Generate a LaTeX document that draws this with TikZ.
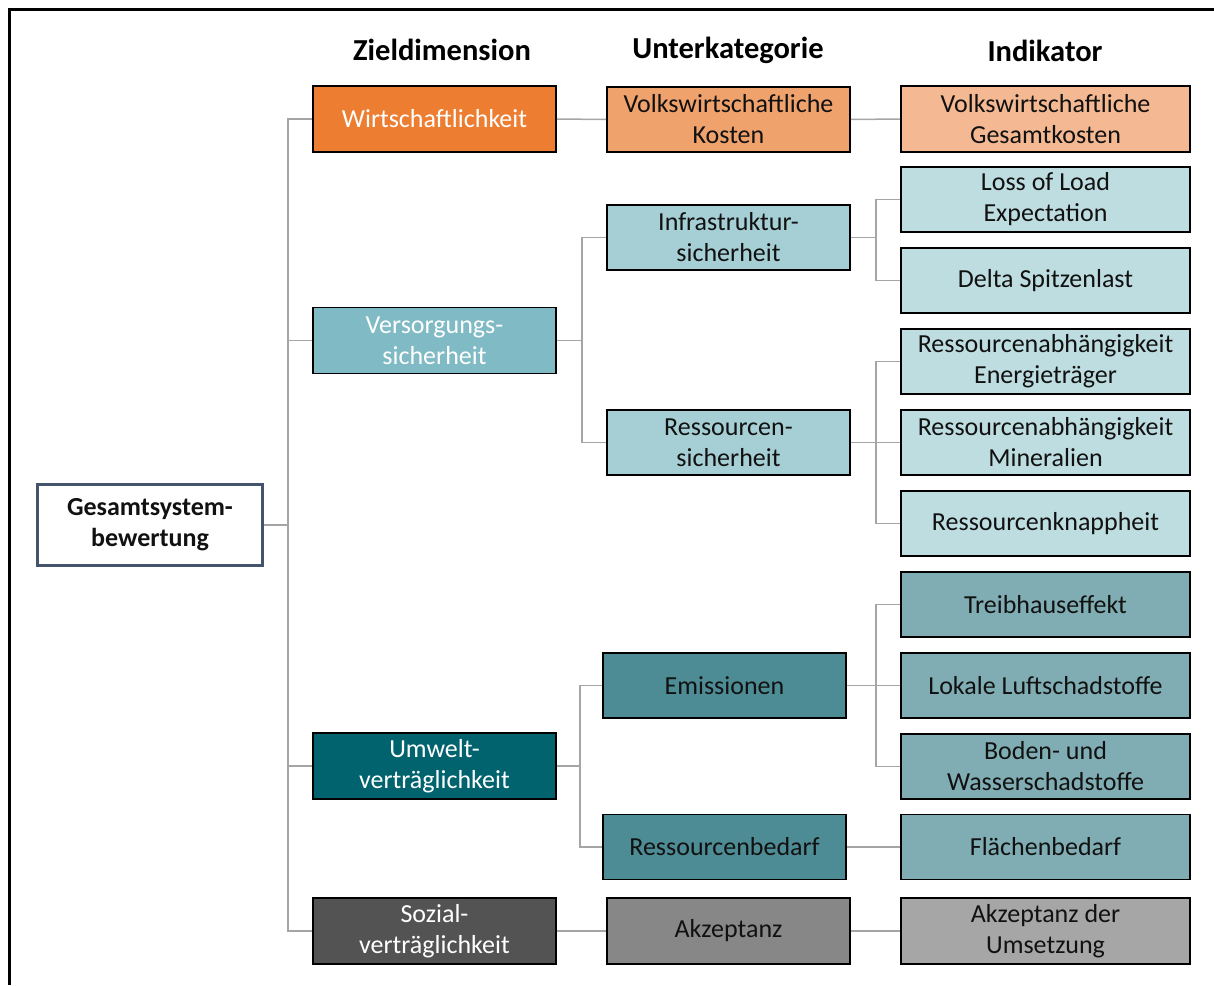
\documentclass[tikz,border=0pt]{standalone}
\usepackage{fontspec}
\setmainfont{Carlito}
\definecolor{cOrange}{HTML}{ED7D31}
\definecolor{cOrangeM}{HTML}{F0A26C}
\definecolor{cOrangeL}{HTML}{F4B992}
\definecolor{cTealA}{HTML}{80BAC4}
\definecolor{cTealB}{HTML}{A6CFD5}
\definecolor{cTealC}{HTML}{BEDDE1}
\definecolor{cDarkA}{HTML}{00636E}
\definecolor{cDarkB}{HTML}{4D8C95}
\definecolor{cDarkC}{HTML}{80ADB3}
\definecolor{cGrayA}{HTML}{535353}
\definecolor{cGrayB}{HTML}{878787}
\definecolor{cGrayC}{HTML}{A6A6A6}
\definecolor{cRoot}{HTML}{44546A}
\definecolor{cLine}{HTML}{A5A5A5}
\definecolor{cText}{HTML}{111111}
\tikzset{
  box/.style={rectangle, draw=black, line width=1.8pt, inner sep=0pt, align=center,
    font=\fontsize{26}{31}\selectfont, text=cText},
  colA/.style={box, minimum width=243pt, minimum height=66pt},
  colB/.style={box, minimum width=243pt, minimum height=65pt},
  colC/.style={box, minimum width=289pt, minimum height=65pt},
  wt/.style={text=white},
  head/.style={font=\fontsize{30.5}{34}\selectfont\bfseries, text=black},
  conn/.style={draw=cLine, line width=1.5pt},
}
\begin{document}
\begin{tikzpicture}[x=1pt,y=-1pt]
\useasboundingbox (0,0) rectangle (1214,985);
% frame
\draw[line width=3pt, black] (9.5,985) -- (9.5,9.5) -- (1214,9.5);
% headers
\node[head] (h1) at (442,50) {Zieldimension};
\node[head] (h2) at (728,50) {Unterkategorie};
\node[head] (h3) at (1045,51) {Indikator};
% root
\node[box, draw=cRoot, line width=3pt, minimum width=225pt, minimum height=81pt, fill=white,
  font=\fontsize{26}{31}\selectfont\bfseries] (root) at (150,525) {Gesamtsystem-\\bewertung};
% column 1
\node[colA, fill=cOrange, wt] (w) at (434.5,119) {Wirtschaftlichkeit};
\node[colA, fill=cTealA, wt] (v) at (434.5,340.5) {Versorgungs-\\sicherheit};
\node[colA, fill=cDarkA, wt] (u) at (434.5,766) {Umwelt-\\verträglichkeit};
\node[colA, fill=cGrayA, wt] (s) at (434.5,931) {Sozial-\\verträglichkeit};
% column 2
\node[colB, fill=cOrangeM] (vk) at (728.5,119.5) {Volkswirtschaftliche\\Kosten};
\node[colB, fill=cTealB] (is) at (728.5,237.5) {Infrastruktur-\\sicherheit};
\node[colB, fill=cTealB] (rs) at (728.5,442.5) {Ressourcen-\\sicherheit};
\node[colB, fill=cDarkB] (em) at (724.5,685.5) {Emissionen};
\node[colB, fill=cDarkB] (rb) at (724.5,847) {Ressourcenbedarf};
\node[colB, fill=cGrayB, minimum height=66pt] (ak) at (728.5,931) {Akzeptanz};
% column 3
\node[colC, fill=cOrangeL, minimum height=66pt] (vg) at (1045.5,119) {Volkswirtschaftliche\\Gesamtkosten};
\node[colC, fill=cTealC] (ll) at (1045.5,199.5) {Loss of Load\\Expectation};
\node[colC, fill=cTealC] (ds) at (1045.5,280.5) {Delta Spitzenlast};
\node[colC, fill=cTealC] (re) at (1045.5,361.5) {Ressourcenabhängigkeit\\Energieträger};
\node[colC, fill=cTealC] (rm) at (1045.5,442.5) {Ressourcenabhängigkeit\\Mineralien};
\node[colC, fill=cTealC] (rk) at (1045.5,523.5) {Ressourcenknappheit};
\node[colC, fill=cDarkC] (th) at (1045.5,604.5) {Treibhauseffekt};
\node[colC, fill=cDarkC] (lu) at (1045.5,685.5) {Lokale Luftschadstoffe};
\node[colC, fill=cDarkC] (bw) at (1045.5,766.5) {Boden- und\\Wasserschadstoffe};
\node[colC, fill=cDarkC] (fb) at (1045.5,847) {Flächenbedarf};
\node[colC, fill=cGrayC, minimum height=66pt] (au) at (1045.5,931) {Akzeptanz der\\Umsetzung};
% connectors
\foreach \c in {w,v,u,s}{\draw[conn] (root.east) -- ++(24,0) |- (\c.west);}
\draw[conn] (w.east) -- (vk.west);
\draw[conn] (vk.east) -- (vg.west);
\foreach \c in {is,rs}{\draw[conn] (v.east) -- ++(25,0) |- (\c.west);}
\foreach \c in {ll,ds}{\draw[conn] (is.east) -- ++(25,0) |- (\c.west);}
\foreach \c in {re,rm,rk}{\draw[conn] (rs.east) -- ++(25,0) |- (\c.west);}
\foreach \c in {em,rb}{\draw[conn] (u.east) -- ++(23,0) |- (\c.west);}
\foreach \c in {th,lu,bw}{\draw[conn] (em.east) -- ++(29,0) |- (\c.west);}
\draw[conn] (rb.east) -- (fb.west);
\draw[conn] (s.east) -- (ak.west);
\draw[conn] (ak.east) -- (au.west);
\end{tikzpicture}
\end{document}
